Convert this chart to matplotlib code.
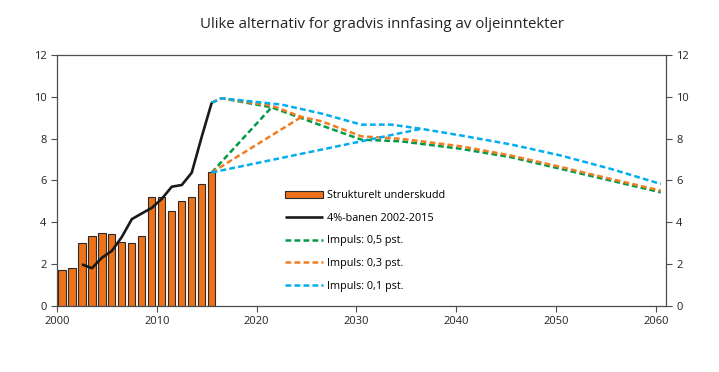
import matplotlib
matplotlib.use("Agg")
import matplotlib.pyplot as plt
import numpy as np

# ---------------- data ----------------
bar_years = list(range(2000, 2016))
structural_deficit = [1.71, 1.82, 3.00, 3.33, 3.48, 3.45, 3.06, 3.00, 3.33,
                      5.19, 5.22, 4.52, 5.00, 5.19, 5.81, 6.38]

path_years = list(range(2002, 2016))
path_4pct = [1.98, 1.80, 2.30, 2.63, 3.30, 4.15, 4.42, 4.69, 5.12,
             5.70, 5.78, 6.37, 8.09, 9.72]

# Impulse 0.5
green_upper_years = [2015, 2016, 2021, 2026, 2030, 2034, 2040, 2045, 2050, 2055, 2060]
green_upper = [9.72, 9.93, 9.50, 8.63, 7.95, 7.87, 7.51, 7.11, 6.55, 5.99, 5.43]
green_lower_years = [2015, 2021]
green_lower = [6.38, 9.50]

# Impulse 0.3
orange_upper_years = [2015, 2016, 2021, 2024, 2026, 2030, 2034, 2040, 2045, 2050, 2055, 2060]
orange_upper = [9.72, 9.93, 9.58, 9.04, 8.83, 8.11, 7.99, 7.63, 7.19, 6.64, 6.07, 5.51]
orange_lower_years = [2015, 2024]
orange_lower = [6.38, 9.04]

# Impulse 0.1
blue_upper_years = [2015, 2016, 2022, 2026, 2030, 2033, 2036, 2040, 2045, 2050, 2055, 2060]
blue_upper = [9.72, 9.93, 9.63, 9.20, 8.67, 8.67, 8.47, 8.15, 7.72, 7.19, 6.55, 5.83]
blue_lower_years = [2015, 2036]
blue_lower = [6.38, 8.47]

labels = ["Strukturelt underskudd", "4%-banen 2002-2015",
          "Impuls: 0,5 pst.", "Impuls: 0,3 pst.", "Impuls: 0,1 pst."]
title = "Ulike alternativ for gradvis innfasing av oljeinntekter"
yticks = [0, 2, 4, 6, 8, 10, 12]
xticks = [2000, 2010, 2020, 2030, 2040, 2050, 2060]

# ---------------- style ----------------
plt.rcParams['font.family'] = ['Open Sans', 'DejaVu Sans']
OFF = 0.5
C_BAR = '#EE7219'
C_GREEN = '#009A49'
C_ORANGE = '#F07D22'
C_BLUE = '#00AEEF'
C_AX = '#4d4d4d'
dash = (0, (2.3, 1.3))
LW = 1.8

fig = plt.figure(figsize=(7.19, 3.72), dpi=100)
ax = fig.add_axes([0.0793, 0.178, 0.8467, 0.674])

def sh(yrs):
    return np.array(yrs) + OFF

bars = ax.bar(sh(bar_years), structural_deficit, width=0.72, color=C_BAR,
              edgecolor='#2a2a2a', linewidth=0.8, zorder=2, label=labels[0])
ln_black, = ax.plot(sh(path_years), path_4pct, color='#1a1a1a', lw=1.9,
                    zorder=5, label=labels[1], solid_capstyle='butt')

lg, = ax.plot(sh(green_upper_years), green_upper, color=C_GREEN, lw=LW, ls=dash, zorder=3, label=labels[2])
ax.plot(sh(green_lower_years), green_lower, color=C_GREEN, lw=LW, ls=dash, zorder=3)
lo, = ax.plot(sh(orange_upper_years), orange_upper, color=C_ORANGE, lw=LW, ls=dash, zorder=3.1, label=labels[3])
ax.plot(sh(orange_lower_years), orange_lower, color=C_ORANGE, lw=LW, ls=dash, zorder=3.1)
lb, = ax.plot(sh(blue_upper_years), blue_upper, color=C_BLUE, lw=LW, ls=dash, zorder=3.2, label=labels[4])
ax.plot(sh(blue_lower_years), blue_lower, color=C_BLUE, lw=LW, ls=dash, zorder=3.2)

ax.set_xlim(2000, 2061)
ax.set_ylim(0, 12)
ax.set_xticks(xticks)
ax.set_yticks(yticks)
for s in ax.spines.values():
    s.set_color(C_AX)
    s.set_linewidth(0.9)
ax.tick_params(axis='both', direction='out', length=4, width=0.8, color=C_AX,
               labelsize=8, labelcolor='#222222')
ax.tick_params(axis='x', pad=3)

ax2 = ax.twinx()
ax2.set_ylim(0, 12)
ax2.set_yticks(yticks)
for s in ax2.spines.values():
    s.set_visible(False)
ax2.tick_params(axis='y', direction='out', length=4, width=0.8, color=C_AX,
                labelsize=8, labelcolor='#222222')

fig.text(0.531, 0.935, title, ha='center', va='center', fontsize=10.8, color='#222222')

leg = ax.legend(handles=[bars, ln_black, lg, lo, lb], labels=labels,
                loc='upper left', bbox_to_anchor=(0.396, 0.489), bbox_transform=fig.transFigure,
                frameon=False, fontsize=7.8, handlelength=3.5, handletextpad=0.4,
                labelspacing=1.08, borderaxespad=0, borderpad=0)

fig.savefig("out.png", dpi=100)
